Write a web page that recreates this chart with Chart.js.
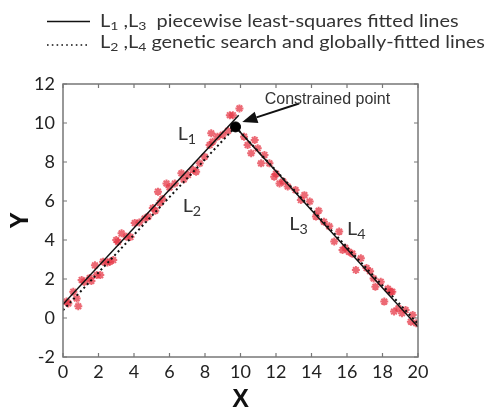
<!DOCTYPE html>
<html>
<head>
<meta charset="utf-8">
<script src="https://cdn.jsdelivr.net/npm/chart.js@4.4.1/dist/chart.umd.min.js"></script>
<style>
  html, body { margin: 0; padding: 0; background: #fff; }
  #wrap { position: relative; width: 491px; height: 407px; }
</style>
</head>
<body>
<div id="wrap"><canvas id="fit" width="491" height="407"></canvas></div>
<script>
// measured samples on the rising branch
const riseX = [0.2, 0.3, 0.58, 0.77, 0.86, 1.05, 1.2, 1.5, 1.6, 1.8, 1.9, 2.1, 2.26, 2.5, 2.64, 2.83,
  3.0, 3.1, 3.3, 3.58, 3.8, 4.04, 4.3, 4.6, 4.8, 5.06, 5.2, 5.35, 5.45, 5.6, 5.83, 6.0, 6.3, 6.67,
  6.8, 7.04, 7.32, 7.5, 7.7, 7.98, 8.26, 8.43, 8.35, 8.7, 9.0, 9.3, 9.4, 9.57, 9.94];
const riseY = [0.84, 0.75, 1.35, 1.0, 0.6, 1.95, 1.85, 2.05, 1.9, 2.7, 2.2, 2.2, 2.89, 2.85, 2.89, 2.97,
  4.0, 3.9, 4.34, 4.17, 4.15, 4.87, 4.9, 5.1, 5.2, 5.64, 5.5, 6.48, 5.9, 6.1, 6.9, 6.7, 6.9, 7.42,
  7.1, 7.33, 7.6, 7.5, 7.93, 8.27, 8.87, 9.04, 9.47, 9.3, 9.4, 9.6, 10.4, 10.4, 10.75];

// measured samples on the falling branch
const fallX = [10.2, 10.4, 10.6, 10.8, 10.97, 11.16, 11.35, 11.63, 11.9, 12.0, 12.2, 12.4, 12.66, 13.1,
  13.4, 13.6, 13.9, 14.25, 14.4, 14.7, 15.0, 15.28, 15.56, 15.75, 15.9, 16.1, 16.3, 16.5, 16.78, 17.1,
  17.3, 17.5, 17.6, 17.9, 18.1, 18.3, 18.46, 18.55, 18.65, 18.9, 19.1, 19.3, 19.6, 19.7, 19.9];
const fallY = [9.3, 8.87, 8.45, 9.13, 8.7, 7.93, 8.36, 7.93, 7.25, 7.4, 6.9, 7.0, 6.74, 6.56,
  6.05, 6.3, 5.97, 5.2, 5.5, 4.94, 4.7, 3.92, 4.43, 3.49, 3.6, 3.4, 3.3, 2.46, 3.06, 2.56,
  2.4, 2.03, 1.6, 1.86, 0.84, 1.5, 1.35, 1.35, 0.33, 0.5, 0.24, 0.41, -0.19, 0.15, -0.27];

// fitted lines (end points)
const l1X = [0, 9.9];   const l1Y = [0.7, 10.4];
const l2X = [0, 9.72];  const l2Y = [0.4, 9.8];
const l3X = [9.72, 20]; const l3Y = [9.8, -0.45];
const l4X = [9.72, 20]; const l4Y = [9.8, -0.3];

// constrained break point
const knotX = [9.72];
const knotY = [9.8];

const xTicks = [0, 2, 4, 6, 8, 10, 12, 14, 16, 18, 20];
const yTicks = [-2, 0, 2, 4, 6, 8, 10, 12];

const pts = (xs, ys) => xs.map((x, i) => ({ x: x, y: ys[i] }));

const lineSet = (xs, ys, dash) => ({
  data: pts(xs, ys),
  showLine: true,
  borderColor: '#111',
  borderWidth: dash ? 2 : 1.5,
  borderDash: dash ? [2, 3] : [],
  pointRadius: 0,
  order: 1
});

// text with subscript pieces: strings are normal, {sub} are lowered and smaller;
// stretch widens the run horizontally
function richText(ctx, parts, x, y, size, family, stretch) {
  ctx.save();
  ctx.translate(x, y);
  ctx.scale(stretch || 1, 1);
  let cx = 0;
  parts.forEach(p => {
    const isSub = typeof p !== 'string';
    const t = isSub ? p.sub : p;
    ctx.font = (isSub ? Math.round(size * 0.72) : size) + 'px ' + family;
    ctx.fillText(t, cx, isSub ? size * 0.2 : 0);
    cx += ctx.measureText(t).width;
  });
  ctx.restore();
}

const decorations = {
  id: 'decorations',
  afterDatasetsDraw(chart) {
    const { ctx, chartArea: a, scales: { x, y } } = chart;
    ctx.save();

    // box with inward ticks
    ctx.strokeStyle = '#777';
    ctx.lineWidth = 1.5;
    ctx.strokeRect(a.left, a.top, a.right - a.left, a.bottom - a.top);
    ctx.lineWidth = 1.2;
    ctx.beginPath();
    xTicks.forEach(v => {
      const px = x.getPixelForValue(v);
      ctx.moveTo(px, a.bottom); ctx.lineTo(px, a.bottom - 4);
      ctx.moveTo(px, a.top); ctx.lineTo(px, a.top + 4);
    });
    yTicks.forEach(v => {
      const py = y.getPixelForValue(v);
      ctx.moveTo(a.left, py); ctx.lineTo(a.left + 4, py);
      ctx.moveTo(a.right, py); ctx.lineTo(a.right - 4, py);
    });
    ctx.stroke();

    // arrow to the constrained point
    const tx = x.getPixelForValue(10.1), ty = y.getPixelForValue(10.05);
    const sx = x.getPixelForValue(13.3), sy = y.getPixelForValue(11.0);
    const ang = Math.atan2(ty - sy, tx - sx);
    const head = 15, half = 6;
    const bx = tx - head * Math.cos(ang), by = ty - head * Math.sin(ang);
    ctx.strokeStyle = '#111';
    ctx.fillStyle = '#111';
    ctx.lineWidth = 2;
    ctx.beginPath();
    ctx.moveTo(sx, sy); ctx.lineTo(bx, by);
    ctx.stroke();
    ctx.beginPath();
    ctx.moveTo(tx, ty);
    ctx.lineTo(bx + half * Math.sin(ang), by - half * Math.cos(ang));
    ctx.lineTo(bx - half * Math.sin(ang), by + half * Math.cos(ang));
    ctx.closePath();
    ctx.fill();

    ctx.fillStyle = '#333';
    ctx.font = '16px "Liberation Sans", Arial, sans-serif';
    ctx.textAlign = 'center';
    ctx.textBaseline = 'middle';
    ctx.fillText('Constrained point', x.getPixelForValue(14.9), y.getPixelForValue(11.2));

    // line labels
    ctx.textAlign = 'left';
    ctx.textBaseline = 'alphabetic';
    const lab = (n, vx, vy) => richText(ctx, ['L', { sub: n }], x.getPixelForValue(vx), y.getPixelForValue(vy), 18, 'Lato', 1.1);
    lab('1', 6.46, 9.13);
    lab('2', 6.74, 5.44);
    lab('3', 12.75, 4.51);
    lab('4', 16.0, 4.26);
    ctx.restore();
  },
  afterDraw(chart) {
    const { ctx } = chart;
    ctx.save();
    // legend
    ctx.strokeStyle = '#111';
    ctx.lineWidth = 1.5;
    ctx.beginPath();
    ctx.moveTo(47, 21.5); ctx.lineTo(90, 21.5);
    ctx.stroke();
    ctx.lineWidth = 1.6;
    ctx.setLineDash([1.6, 3.2]);
    ctx.beginPath();
    ctx.moveTo(47, 45); ctx.lineTo(90, 45);
    ctx.stroke();
    ctx.setLineDash([]);
    ctx.fillStyle = '#333';
    ctx.textAlign = 'left';
    ctx.textBaseline = 'alphabetic';
    richText(ctx, ['L', { sub: '1' }, ' ,L', { sub: '3' }, '  piecewise least-squares fitted lines'], 100, 27, 17, 'Lato', 1.17);
    richText(ctx, ['L', { sub: '2' }, ' ,L', { sub: '4' }, ' genetic search and globally-fitted lines'], 100, 47.5, 17, 'Lato', 1.17);
    ctx.restore();
  }
};

const tickFont = { family: 'Lato', size: 18 };

new Chart(document.getElementById('fit'), {
  type: 'scatter',
  data: {
    datasets: [
      lineSet(l1X, l1Y, false),
      lineSet(l2X, l2Y, true),
      lineSet(l3X, l3Y, false),
      lineSet(l4X, l4Y, true),
      {
        data: pts(knotX, knotY),
        pointRadius: 5,
        pointBackgroundColor: '#000',
        pointBorderColor: '#000',
        order: 0
      },
      {
        data: pts(riseX.concat(fallX), riseY.concat(fallY)),
        pointStyle: 'star',
        pointRadius: 4,
        borderWidth: 2,
        pointBorderColor: 'rgba(230,55,70,0.75)',
        pointBackgroundColor: 'rgba(230,55,70,0.75)',
        order: 2
      }
    ]
  },
  options: {
    responsive: false,
    animation: false,
    events: [],
    layout: { padding: { left: 0, right: 73, top: 84, bottom: 0 } },
    plugins: { legend: { display: false }, tooltip: { enabled: false } },
    scales: {
      x: {
        type: 'linear',
        min: 0,
        max: 20,
        afterBuildTicks: s => { s.ticks = xTicks.map(v => ({ value: v })); },
        afterFit: s => { s.height = 50; },
        grid: { display: false, drawTicks: false },
        border: { display: false },
        ticks: { font: tickFont, color: '#222', padding: 4, maxRotation: 0 },
        title: {
          display: true, text: 'X', color: '#111',
          font: { family: '"Liberation Sans", Arial', size: 25, weight: 'bold', lineHeight: 1 },
          padding: { top: 0, bottom: -6 }
        }
      },
      y: {
        type: 'linear',
        min: -2,
        max: 12,
        afterBuildTicks: s => { s.ticks = yTicks.map(v => ({ value: v })); },
        afterFit: s => { s.width = 63; },
        grid: { display: false, drawTicks: false },
        border: { display: false },
        ticks: { font: tickFont, color: '#222', padding: 8 },
        title: {
          display: true, text: 'Y', color: '#111',
          font: { family: '"Liberation Sans", Arial', size: 25, weight: 'bold', lineHeight: 1 },
          padding: { top: 9, bottom: 0 }
        }
      }
    }
  },
  plugins: [decorations]
});
</script>
</body>
</html>
